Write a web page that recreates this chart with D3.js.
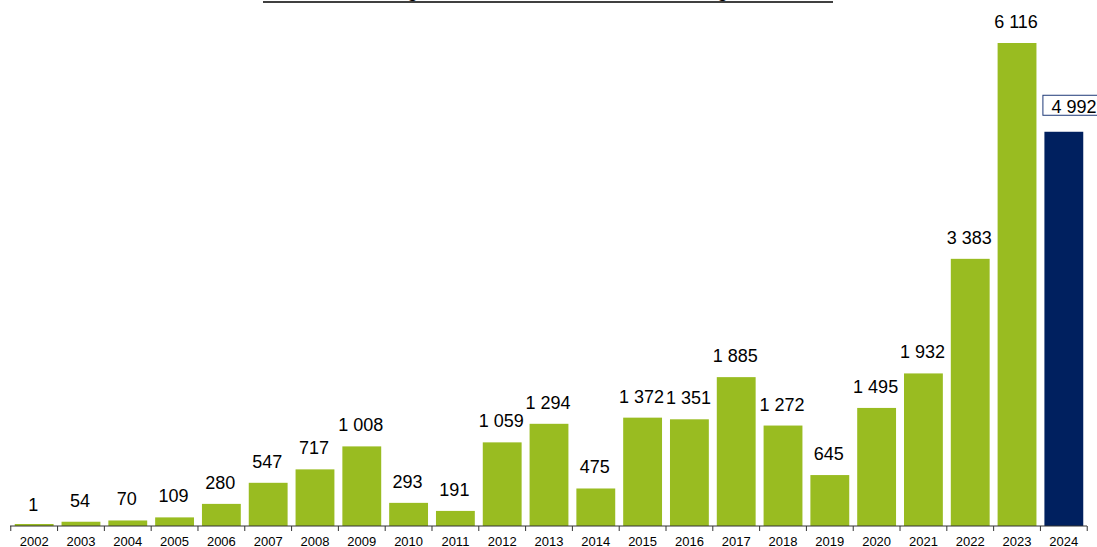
<!DOCTYPE html>
<html><head><meta charset="utf-8">
<script src="https://cdn.jsdelivr.net/npm/d3@7"></script>
<style>body{margin:0;background:#fff}svg{display:block}</style>
</head><body>
<script>
const years = ["2002","2003","2004","2005","2006","2007","2008","2009","2010","2011","2012","2013","2014","2015","2016","2017","2018","2019","2020","2021","2022","2023","2024"];
const values = [1,54,70,109,280,547,717,1008,293,191,1059,1294,475,1372,1351,1885,1272,645,1495,1932,3383,6116,4992];
const highlightYear = "2024";
const titleText = "Nombre de signatures de contrats de location longue durée";

const W = 1097, H = 547;
const svg = d3.select("body").append("svg").attr("width", W).attr("height", H);
const fmt = v => d3.format(",")(v).replace(/,/g, " ");

const x = d3.scaleBand().domain(years).range([11, 1087]).paddingInner(0.17).paddingOuter(0.08);
const y = d3.scaleLinear().domain([0, 6116]).range([526, 43]);

// title (clipped at top in reference)
svg.append("text").attr("x", 548).attr("y", -3).attr("text-anchor", "middle")
  .attr("font-family", "Liberation Sans, Arial, sans-serif").attr("font-size", 18).attr("font-weight", "bold")
  .attr("fill", "#000").text(titleText);
svg.append("line").attr("x1", 263).attr("x2", 833).attr("y1", 2).attr("y2", 2)
  .attr("stroke", "#000").attr("stroke-width", 1.5);

const data = years.map((yr, i) => ({yr, v: values[i]}));
const minH = 2;

svg.append("g").selectAll("rect").data(data).join("rect")
  .attr("x", d => x(d.yr)).attr("width", x.bandwidth())
  .attr("y", d => Math.min(y(d.v), y(0) - minH)).attr("height", d => Math.max(y(0) - y(d.v), minH))
  .attr("fill", d => d.yr === highlightYear ? "#00205f" : "#99bc21");

// axis
const axis = svg.append("g").attr("transform", "translate(0,526)");
axis.append("line").attr("x1", 10).attr("x2", 1087).attr("y1", 0).attr("y2", 0).attr("stroke", "#333").attr("stroke-width", 1);
const bounds = years.map(yr => x(yr) - x.step() * x.paddingInner() / 2);
bounds.push(x(years[years.length - 1]) + x.bandwidth() + x.step() * x.paddingInner() / 2);
axis.selectAll("line.tick").data(bounds).join("line").attr("class", "tick")
  .attr("x1", d => d).attr("x2", d => d).attr("y1", 0).attr("y2", 5).attr("stroke", "#333");
axis.selectAll("text").data(years).join("text")
  .attr("x", d => x(d) + x.bandwidth() / 2).attr("y", 19.5).attr("text-anchor", "middle")
  .attr("font-family", "Liberation Sans, Arial, sans-serif").attr("font-size", 13).attr("fill", "#000")
  .text(d => d);

// value labels
const normal = data.filter(d => d.yr !== highlightYear);
svg.append("g").selectAll("text").data(normal).join("text")
  .attr("x", d => x(d.yr) + x.bandwidth() / 2 - 1).attr("y", d => y(d.v) - 15)
  .attr("text-anchor", "middle").attr("font-family", "Liberation Sans, Arial, sans-serif")
  .attr("font-size", 18).attr("fill", "#000").text(d => fmt(d.v));

const hl = data.find(d => d.yr === highlightYear);
const hx = x(hl.yr);
svg.append("rect").attr("x", hx - 1.5).attr("y", y(hl.v) - 36.5).attr("width", 80).attr("height", 20)
  .attr("fill", "#fff").attr("stroke", "#1f3a78").attr("stroke-width", 1);
svg.append("text").attr("x", hx + 7).attr("y", y(hl.v) - 19)
  .attr("font-family", "Liberation Sans, Arial, sans-serif").attr("font-size", 18).attr("fill", "#000")
  .text(fmt(hl.v));
</script>
</body></html>
